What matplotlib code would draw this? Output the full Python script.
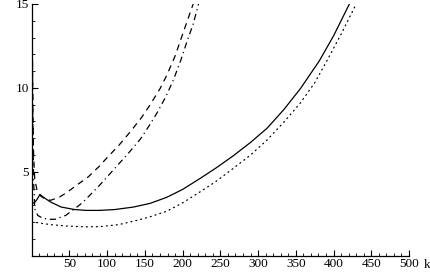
import matplotlib
matplotlib.use("Agg")
import matplotlib.pyplot as plt
from matplotlib.ticker import MultipleLocator

# data (k, value)
solid_k = [0, 3, 7, 11, 15, 25, 39, 57, 72, 90, 110, 135, 157, 179, 200, 223, 245, 267, 290, 312, 334, 356, 381, 400, 421]
solid_y = [3.2, 3.12, 3.35, 3.65, 3.5, 3.2, 2.9, 2.75, 2.7, 2.7, 2.75, 2.9, 3.12, 3.48, 3.95, 4.6, 5.25, 5.95, 6.75, 7.6, 8.7, 9.95, 11.6, 13.1, 15.0]

dotted_k = [0, 10, 25, 46, 70, 90, 115, 139, 157, 179, 200, 223, 245, 267, 290, 312, 334, 356, 375, 391, 410, 430]
dotted_y = [2.03, 1.95, 1.85, 1.77, 1.72, 1.73, 1.85, 2.1, 2.32, 2.65, 3.15, 3.8, 4.45, 5.2, 6.0, 6.9, 7.95, 9.1, 10.3, 11.6, 13.2, 15.0]

dashed_k = [0.5, 1.5, 2.5, 4, 7, 12, 18, 25, 37, 46, 61, 75, 90, 100, 115, 130, 145, 157, 170, 179, 190, 200, 214]
dashed_y = [15.0, 9.0, 6.0, 4.6, 3.9, 3.55, 3.38, 3.3, 3.5, 3.75, 4.25, 4.7, 5.35, 5.85, 6.55, 7.35, 8.2, 9.0, 9.95, 10.75, 11.9, 13.2, 15.0]

dashdot_k = [0.5, 1.5, 2.5, 4, 8, 14, 22, 31, 45, 57, 67, 77, 90, 100, 113, 128, 144, 155, 166, 178, 188, 198, 206, 214, 221]
dashdot_y = [15.0, 8.0, 4.5, 2.8, 2.4, 2.25, 2.17, 2.17, 2.4, 2.8, 3.15, 3.6, 4.2, 4.7, 5.35, 6.1, 6.95, 7.7, 8.5, 9.5, 10.5, 11.7, 12.8, 13.8, 15.0]

x_major = [50, 100, 150, 200, 250, 300, 350, 400, 450, 500]
y_major = [5, 10, 15]

plt.rcParams['font.family'] = ['Liberation Serif', 'DejaVu Serif']

fig = plt.figure(figsize=(4.30, 2.73), dpi=100)
ax = fig.add_axes([31.7/430, (273-255.7)/273, (409-31.7)/430, (255.7-4)/273])

lw = 0.9
ax.plot(solid_k, solid_y, color='black', lw=lw, solid_joinstyle='round')
ax.plot(dotted_k, dotted_y, color='black', lw=lw, linestyle=(0, (0.8, 3.2)), dash_capstyle='round')
ax.plot(dashed_k, dashed_y, color='black', lw=lw, linestyle=(0, (5, 4)))
ax.plot(dashdot_k, dashdot_y, color='black', lw=lw, linestyle=(0, (5, 3, 1, 3)))

ax.set_xlim(0, 500)
ax.set_ylim(0, 15)
for s in ['top', 'right']:
    ax.spines[s].set_visible(False)
for s in ['left', 'bottom']:
    ax.spines[s].set_linewidth(0.9)

ax.set_xticks(x_major)
ax.set_xticklabels([str(v) for v in x_major])
ax.xaxis.set_minor_locator(MultipleLocator(10))
ax.set_yticks(y_major)
ax.set_yticklabels([str(v) for v in y_major])
ax.yaxis.set_minor_locator(MultipleLocator(1))
ax.tick_params(axis='both', which='major', direction='in', length=4, width=0.8, labelsize=9.5, pad=2)
ax.tick_params(axis='both', which='minor', direction='in', length=2, width=0.6)

ax.text(1.048, -0.035, 'k', transform=ax.transAxes, fontsize=9.5, ha='center', va='center')

fig.savefig('out.png', dpi=100)
